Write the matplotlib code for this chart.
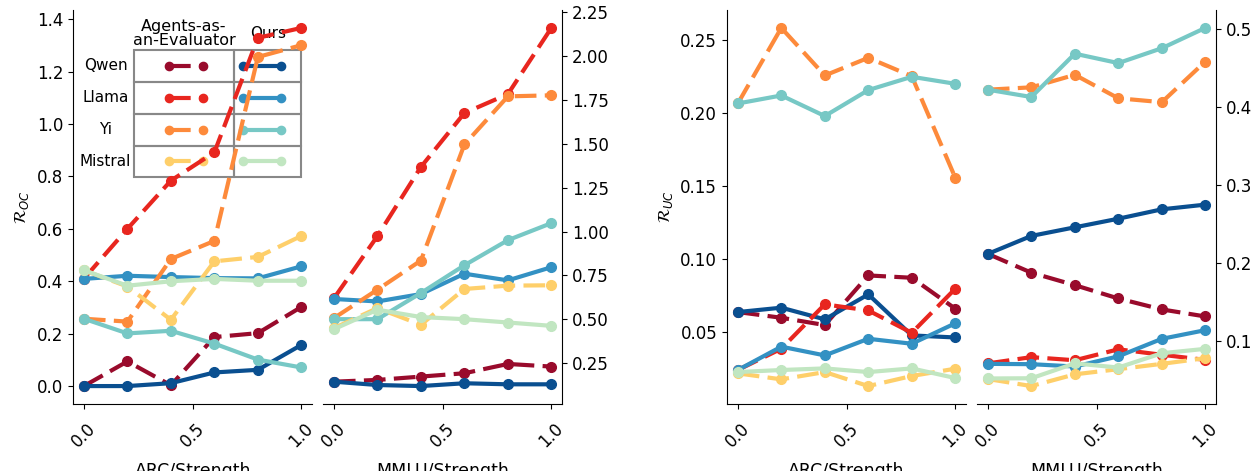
import numpy as np
import matplotlib
matplotlib.use("Agg")
import matplotlib.pyplot as plt
from matplotlib.lines import Line2D
from matplotlib.patches import Rectangle

strength = [0.0, 0.2, 0.4, 0.6, 0.8, 1.0]
models = ["Qwen", "Llama", "Yi", "Mistral"]

# R_OC, ARC (left axis)
arc_oc_aae = {
    "Qwen": [0.0, 0.094, 0.003, 0.187, 0.202, 0.302],
    "Llama": [0.41, 0.600, 0.784, 0.892, 1.329, 1.367],
    "Yi": [0.257, 0.246, 0.485, 0.554, 1.256, 1.301],
    "Mistral": [0.442, 0.38, 0.253, 0.476, 0.493, 0.573],
}
arc_oc_ours = {
    "Qwen": [0.0, 0.0, 0.011, 0.052, 0.062, 0.157],
    "Llama": [0.409, 0.421, 0.416, 0.412, 0.411, 0.457],
    "Yi": [0.257, 0.201, 0.211, 0.162, 0.101, 0.071],
    "Mistral": [0.442, 0.383, 0.400, 0.409, 0.402, 0.402],
}
# R_OC, MMLU (right axis)
mmlu_oc_aae = {
    "Qwen": [0.145, 0.155, 0.174, 0.193, 0.246, 0.231],
    "Llama": [0.62, 0.974, 1.368, 1.675, 1.783, 2.160],
    "Yi": [0.507, 0.669, 0.835, 1.496, 1.770, 1.776],
    "Mistral": [0.450, 0.564, 0.469, 0.673, 0.692, 0.694],
}
mmlu_oc_ours = {
    "Qwen": [0.145, 0.126, 0.120, 0.136, 0.130, 0.130],
    "Llama": [0.616, 0.602, 0.644, 0.760, 0.722, 0.797],
    "Yi": [0.501, 0.501, 0.65, 0.808, 0.951, 1.048],
    "Mistral": [0.444, 0.555, 0.513, 0.501, 0.482, 0.463],
}
# R_UC, ARC (left axis)
arc_uc_aae = {
    "Qwen": [0.0637, 0.0598, 0.0548, 0.0888, 0.0872, 0.066],
    "Llama": [0.024, 0.0386, 0.069, 0.0648, 0.0495, 0.0797],
    "Yi": [0.2066, 0.2584, 0.2258, 0.2379, 0.2253, 0.1557],
    "Mistral": [0.0217, 0.0176, 0.0226, 0.013, 0.0199, 0.0249],
}
arc_uc_ours = {
    "Qwen": [0.0637, 0.0667, 0.0587, 0.0758, 0.0477, 0.0463],
    "Llama": [0.024, 0.040, 0.034, 0.0454, 0.042, 0.056],
    "Yi": [0.2066, 0.2121, 0.198, 0.2158, 0.2249, 0.2201],
    "Mistral": [0.0226, 0.024, 0.0251, 0.0226, 0.0251, 0.0185],
}
# R_UC, MMLU (right axis)
mmlu_uc_aae = {
    "Qwen": [0.212, 0.188, 0.172, 0.155, 0.141, 0.132],
    "Llama": [0.072, 0.080, 0.076, 0.090, 0.083, 0.0765],
    "Yi": [0.422, 0.425, 0.441, 0.411, 0.406, 0.458],
    "Mistral": [0.052, 0.043, 0.058, 0.0646, 0.0714, 0.0787],
}
mmlu_uc_ours = {
    "Qwen": [0.212, 0.235, 0.246, 0.257, 0.269, 0.275],
    "Llama": [0.0714, 0.071, 0.068, 0.081, 0.1034, 0.1145],
    "Yi": [0.422, 0.4126, 0.468, 0.456, 0.475, 0.501],
    "Mistral": [0.0527, 0.053, 0.072, 0.0667, 0.085, 0.0906],
}

aae_colors = {"Qwen": "#990b2c", "Llama": "#e8261f", "Yi": "#fd8a3b", "Mistral": "#fecf6a"}
ours_colors = {"Qwen": "#0a4f90", "Llama": "#3391c3", "Yi": "#77c8c5", "Mistral": "#c1e6c1"}

LW = 3
MS = 7
DASH = (5.2, 2)
FS = 12

fig = plt.figure(figsize=(12.59, 4.71), dpi=100)
bottom, height = 0.1423, 0.8365
ax1 = fig.add_axes([0.058, bottom, 0.19, height])
ax2 = fig.add_axes([0.2566, bottom, 0.19, height])
ax3 = fig.add_axes([0.5774, bottom, 0.19, height])
ax4 = fig.add_axes([0.776, bottom, 0.19, height])


def draw(ax, aae, ours):
    for m in models:
        ax.plot(strength, aae[m], color=aae_colors[m], lw=LW, ls="--", dashes=DASH,
                marker="o", ms=MS, zorder=3)
        ax.plot(strength, ours[m], color=ours_colors[m], lw=LW, ls="-",
                marker="o", ms=MS, zorder=3)
    ax.set_xticks([0.0, 0.5, 1.0])
    ax.set_xticklabels(["0.0", "0.5", "1.0"], rotation=45)
    ax.tick_params(labelsize=FS)
    ax.tick_params(axis="x", pad=8)
    ax.spines["top"].set_visible(False)


for ax in (ax1, ax3):
    ax.spines["right"].set_visible(False)
for ax in (ax2, ax4):
    ax.spines["left"].set_visible(False)
    ax.yaxis.tick_right()

draw(ax1, arc_oc_aae, arc_oc_ours)
draw(ax2, mmlu_oc_aae, mmlu_oc_ours)
draw(ax3, arc_uc_aae, arc_uc_ours)
draw(ax4, mmlu_uc_aae, mmlu_uc_ours)

ax1.set_yticks(np.arange(0, 1.41, 0.2))
ax2.set_yticks(np.arange(0.25, 2.26, 0.25))
ax3.set_yticks(np.arange(0.05, 0.26, 0.05))
ax4.set_yticks(np.arange(0.1, 0.51, 0.1))

ax1.set_ylabel(r"$\mathcal{R}_{OC}$", fontsize=FS)
ax3.set_ylabel(r"$\mathcal{R}_{UC}$", fontsize=FS)
for ax, lab in zip((ax1, ax2, ax3, ax4),
                   ("ARC/Strength", "MMLU/Strength", "ARC/Strength", "MMLU/Strength")):
    ax.set_xlabel(lab, fontsize=12.5, labelpad=8)

# table-style legend in the first panel
xs = [0.255, 0.674, 0.954]
ys = [0.898, 0.818, 0.737, 0.656, 0.575]
for i in range(4):
    for j in range(2):
        ax1.add_patch(Rectangle((xs[j], ys[i + 1]), xs[j + 1] - xs[j], ys[i] - ys[i + 1],
                                transform=ax1.transAxes, fill=False, ec="#888888",
                                lw=1.5, zorder=1))
for i, m in enumerate(models):
    yc = (ys[i] + ys[i + 1]) / 2
    ax1.text(0.136, yc, m, transform=ax1.transAxes, ha="center", va="center",
             fontsize=11, zorder=1)
    ax1.add_line(Line2D([0.40, 0.544], [yc, yc], transform=ax1.transAxes,
                        color=aae_colors[m], lw=LW, ls="--", dashes=DASH,
                        marker="o", ms=MS * 0.85, zorder=1))
    ax1.add_line(Line2D([0.711, 0.870], [yc, yc], transform=ax1.transAxes,
                        color=ours_colors[m], lw=LW, ls="-",
                        marker="o", ms=MS * 0.85, zorder=1))
ax1.text(0.464, 0.94, "Agents-as-\nan-Evaluator", transform=ax1.transAxes,
         ha="center", va="center", fontsize=11.5, linespacing=0.95, zorder=1)
ax1.text(0.816, 0.94, "Ours", transform=ax1.transAxes, ha="center", va="center",
         fontsize=11, zorder=1)

fig.savefig("out.png", dpi=100)
